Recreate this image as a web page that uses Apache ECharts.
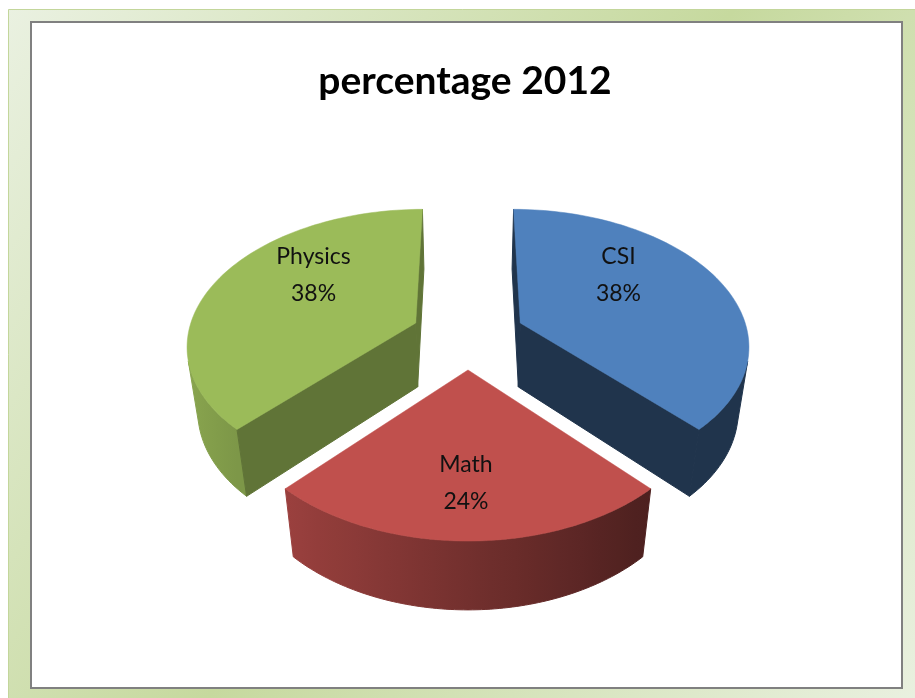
<!DOCTYPE html>
<html>
<head>
<meta charset="utf-8">
<script src="https://cdn.jsdelivr.net/npm/echarts@6/dist/echarts.min.js"></script>
<style>
  html, body { margin: 0; padding: 0; background: #ffffff; }
  #chart { width: 915px; height: 698px; }
</style>
</head>
<body>
<div id="chart"></div>
<script>
// ---- data ----
const categories = ['CSI', 'Math', 'Physics'];
const values = [38, 24, 38];
const chartTitle = 'percentage 2012';

// ---- styling ----
const topColors = ['#4f81bd', '#c0504d', '#9bbb59'];
const cutShade = [0.4, 0.45, 0.62];

// Perspective camera for the tilted pie (unit radius in world space)
const CAM = { cx: 468, cy: 335.2, f: 1238, L: 5.43, elev: 36 * Math.PI / 180 };
const SIN_E = Math.sin(CAM.elev), COS_E = Math.cos(CAM.elev);
const EXPLODE = 0.25;   // slice offset along its bisector
const THICK = 0.362;    // pie height
const CAM_POS = [0, CAM.L * SIN_E, -CAM.L * COS_E];
// where the category/percent labels sit
const LABEL = { cx: 466, cy: 331, rx: 164, ry: 152 };

function project(x, y, z) {
  const yc = z * SIN_E + y * COS_E;
  const d = CAM.L + z * COS_E - y * SIN_E;
  return [CAM.cx + CAM.f * x / d, CAM.cy - CAM.f * yc / d];
}

function shade(hex, k) {
  const n = parseInt(hex.slice(1), 16);
  const r = Math.round(((n >> 16) & 255) * k);
  const g = Math.round(((n >> 8) & 255) * k);
  const b = Math.round((n & 255) * k);
  return 'rgb(' + r + ',' + g + ',' + b + ')';
}

function wallFactor(nx) {
  return Math.max(0.4, Math.min(0.9, 0.6 - 0.3 * nx));
}

const total = values.reduce((a, b) => a + b, 0);
const startAngles = [];
(function () {
  let acc = 0;
  values.forEach(v => { startAngles.push(acc / total * Math.PI * 2); acc += v; });
})();

function renderItem(params, api) {
  const i = params.dataIndex;
  const v = api.value(0);
  const a0 = startAngles[i];
  const a1 = a0 + v / total * Math.PI * 2;
  const mid = (a0 + a1) / 2;
  const ox = EXPLODE * Math.sin(mid), oz = EXPLODE * Math.cos(mid);
  const P = (t, r, y) => project(ox + r * Math.sin(t), y, oz + r * Math.cos(t));
  const base = Math.round((1 - oz) * 10) * 10;
  const color = topColors[i];
  const children = [];
  const N = 90;

  // outer wall: keep only the part that faces the camera
  let run = [];
  const runs = [];
  for (let k = 0; k <= N; k++) {
    const t = a0 + (a1 - a0) * k / N;
    const wx = ox + Math.sin(t), wz = oz + Math.cos(t);
    const dot = Math.sin(t) * (CAM_POS[0] - wx) + Math.cos(t) * (CAM_POS[2] - wz);
    if (dot > 0) run.push(t);
    else if (run.length) { runs.push(run); run = []; }
  }
  if (run.length) runs.push(run);
  runs.forEach(r => {
    if (r.length < 2) return;
    const topPts = r.map(t => P(t, 1, 0));
    const botPts = r.map(t => P(t, 1, -THICK)).reverse();
    const xs = topPts.concat(botPts).map(p => p[0]);
    const x0 = Math.min.apply(null, xs), x1 = Math.max.apply(null, xs);
    const stops = [];
    r.forEach((t, k) => {
      if (k % 5 !== 0 && k !== r.length - 1) return;
      const off = (topPts[k][0] - x0) / Math.max(1, x1 - x0);
      stops.push({ offset: Math.min(1, Math.max(0, off)), color: shade(color, wallFactor(Math.sin(t))) });
    });
    stops.sort((a, b) => a.offset - b.offset);
    const grad = new echarts.graphic.LinearGradient(x0, 0, x1, 0, stops, true);
    children.push({
      type: 'polygon', z2: base,
      shape: { points: topPts.concat(botPts) },
      style: { fill: grad, stroke: grad, lineWidth: 1 }
    });
  });

  // radial cut faces
  [[a0, -Math.cos(a0), Math.sin(a0)], [a1, Math.cos(a1), -Math.sin(a1)]].forEach(([t, nx, nz]) => {
    const px = ox + 0.5 * Math.sin(t), pz = oz + 0.5 * Math.cos(t);
    const dot = nx * (CAM_POS[0] - px) + nz * (CAM_POS[2] - pz);
    if (dot <= 0) return;
    const c = shade(color, cutShade[i]);
    children.push({
      type: 'polygon', z2: base + 1,
      shape: { points: [P(t, 0, 0), P(t, 1, 0), P(t, 1, -THICK), P(t, 0, -THICK)] },
      style: { fill: c, stroke: c, lineWidth: 1 }
    });
  });

  // top face
  const topFace = [P(0, 0, 0)];
  for (let k = 0; k <= N; k++) topFace.push(P(a0 + (a1 - a0) * k / N, 1, 0));
  children.push({
    type: 'polygon', z2: base + 2,
    shape: { points: topFace },
    style: { fill: color, stroke: color, lineWidth: 0.5 }
  });

  // label
  const pct = Math.round(v / total * 100);
  children.push({
    type: 'text', z2: base + 3,
    style: {
      text: categories[i] + '\n' + pct + '%',
      x: LABEL.cx + LABEL.rx * Math.sin(mid),
      y: LABEL.cy - LABEL.ry * Math.cos(mid),
      fill: '#111111',
      font: '23px Lato',
      fontSize: 23,
      fontFamily: 'Lato',
      lineHeight: 37,
      align: 'center',
      verticalAlign: 'middle',
      textAlign: 'center',
      textVerticalAlign: 'middle'
    }
  });

  return { type: 'group', children: children };
}

const chart = echarts.init(document.getElementById('chart'), null, { renderer: 'canvas' });
chart.setOption({
  animation: false,
  backgroundColor: '#ffffff',
  title: {
    text: chartTitle,
    left: 460,
    top: 52,
    textAlign: 'center',
    textStyle: { fontFamily: 'Lato', fontWeight: 'bold', fontSize: 39, color: '#000000', lineHeight: 48 }
  },
  graphic: [
    {
      type: 'rect', z: -10, silent: true,
      shape: { x: 8.5, y: 9.5, width: 915, height: 700 },
      style: {
        fill: new echarts.graphic.LinearGradient(0, 0, 1, 1, [
          { offset: 0, color: '#eaf1e1' },
          { offset: 0.5, color: '#c6d99e' },
          { offset: 1, color: '#eaf1e1' }
        ]),
        stroke: '#c3d69b', lineWidth: 1
      }
    },
    {
      type: 'rect', z: -9, silent: true,
      shape: { x: 31, y: 22, width: 871, height: 666 },
      style: { fill: '#ffffff', stroke: '#808080', lineWidth: 2 }
    }
  ],
  series: [{
    type: 'custom',
    coordinateSystem: 'none',
    renderItem: renderItem,
    data: categories.map((name, i) => ({ name: name, value: values[i] }))
  }]
});
</script>
</body>
</html>
